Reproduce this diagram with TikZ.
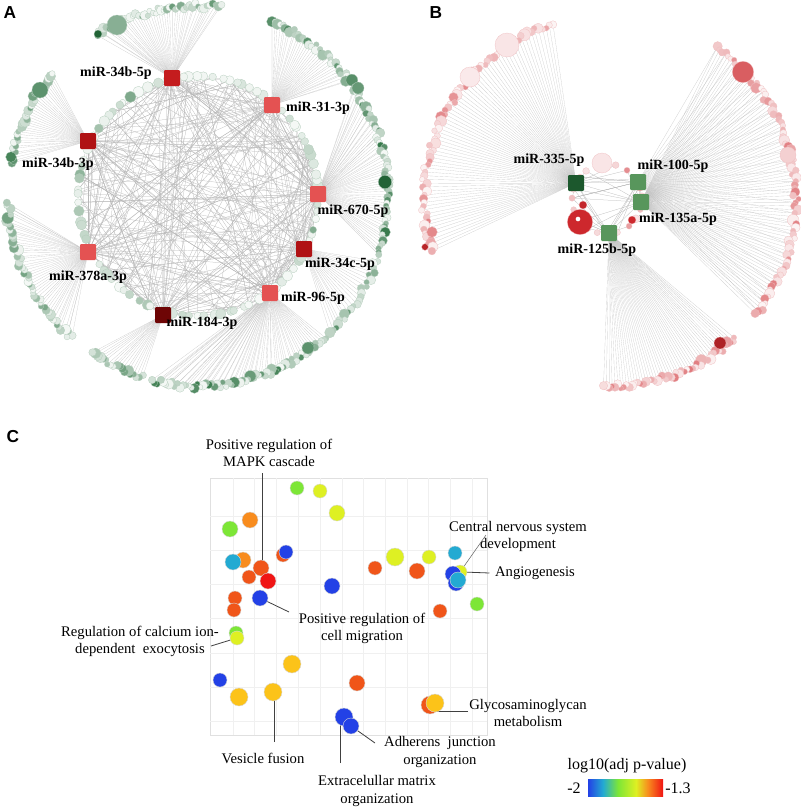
\documentclass[tikz,border=0pt]{standalone}
\usepackage{fontspec}
\setmainfont{Liberation Serif}
\newfontfamily\panelfont{Liberation Sans}
\usetikzlibrary{backgrounds}
\definecolor{Acol}{RGB}{38,110,60}
\definecolor{Bcol}{RGB}{205,40,45}
\definecolor{sqrA}{RGB}{196,28,30}
\definecolor{sqrB}{RGB}{228,82,82}
\definecolor{sqrC}{RGB}{176,18,20}
\definecolor{sqrD}{RGB}{110,5,5}
\definecolor{sqgA}{RGB}{28,88,45}
\definecolor{sqgB}{RGB}{88,150,92}
\definecolor{cBlue}{RGB}{35,65,230}
\definecolor{cCyan}{RGB}{35,170,210}
\definecolor{cGreen}{RGB}{125,230,55}
\definecolor{cYel}{RGB}{222,240,35}
\definecolor{cYO}{RGB}{252,195,25}
\definecolor{cOr}{RGB}{248,140,30}
\definecolor{cOR}{RGB}{240,85,25}
\definecolor{cRed}{RGB}{240,20,20}
\pgfdeclarehorizontalshading{jet}{100bp}{color(0bp)=(cBlue); color(25bp)=(cBlue); color(35bp)=(cCyan); color(45bp)=(cGreen); color(57bp)=(cYel); color(65bp)=(cOr); color(75bp)=(cRed); color(100bp)=(cRed)}

% nodes of one fan arc: #1 name, #2 start angle, #3 end angle, #4 count, #5 A/B, #6 #7 centre, #8 radius, #9 max shade
\newcommand{\drawfan}[9]{%
  \foreach \j in {0,...,#4}{%
    \pgfmathsetmacro{\ang}{#2+(#3-#2)*\j/#4}%
    \pgfmathsetmacro{\rad}{#8+3*rand}%
    \pgfmathsetmacro{\sz}{4+5.5*rnd*rnd}%
    \pgfmathtruncatemacro{\sh}{5+#9*rnd^1.5}%
    \node[dot#5, minimum size=\sz pt, fill=#5col!\sh!white] (#1-\j) at ({#6+\rad*cos(\ang)},{#7-\rad*sin(\ang)}) {};%
  }%
}
% edges of one fan
\newcommand{\fanedges}[3]{%
  \foreach \j in {0,...,#3}{\draw[fanline] (#2.center) -- (#1-\j.center);}%
}

\begin{document}
\begin{tikzpicture}[x=0.75pt,y=-0.75pt,
  dotA/.style={circle,inner sep=0pt,line width=0.2pt,draw=Acol!35!white},
  dotB/.style={circle,inner sep=0pt,line width=0.2pt,draw=Bcol!30!white},
  fanline/.style={draw=black!25,line width=0.1pt},
  chord/.style={draw=black!28,line width=0.18pt},
  sqnode/.style={rectangle,rounded corners=0.8pt,minimum size=12pt,inner sep=0pt},
  mir/.style={font=\bfseries\fontsize{10.5}{12}\selectfont,inner sep=1pt},
  plet/.style={font=\panelfont\bfseries\fontsize{13}{13}\selectfont,inner sep=0pt},
  bub/.style={circle,inner sep=0pt,line width=0.3pt,draw=black!15},
  lab/.style={font=\fontsize{11}{12.8}\selectfont,align=center,inner sep=0pt},
  leader/.style={draw=black!75,line width=0.6pt}]
\pgfmathsetseed{11}
\path[use as bounding box] (0,0) rectangle (800,810);

% ================= Panel A =================
\node[plet] (pA) at (10,13) {A};
\foreach \k in {1,...,96}{%
  \pgfmathsetmacro{\ang}{\k*3.75+1.5*rand}%
  \pgfmathsetmacro{\sz}{5+3.5*rnd}%
  \pgfmathtruncatemacro{\sh}{4+60*rnd*rnd}%
  \node[dotA, minimum size=\sz pt, fill=Acol!\sh!white] (ra-\k) at ({198+120*cos(\ang)},{196-120*sin(\ang)}) {};
}
\node[sqnode,fill=sqrA] (sqA1) at (172,78) {};
\node[sqnode,fill=sqrB] (sqA2) at (272,105) {};
\node[sqnode,fill=sqrB] (sqA3) at (318,194) {};
\node[sqnode,fill=sqrC] (sqA4) at (304,249) {};
\node[sqnode,fill=sqrB] (sqA5) at (270,293) {};
\node[sqnode,fill=sqrD] (sqA6) at (163,315) {};
\node[sqnode,fill=sqrB] (sqA7) at (88,252) {};
\node[sqnode,fill=sqrC] (sqA8) at (88,141) {};
\drawfan{fa1}{122}{83}{45}{A}{198}{196}{190}{65}
\drawfan{fa2}{67}{37}{34}{A}{198}{196}{190}{80}
\drawfan{fa3}{35}{-18}{60}{A}{198}{196}{190}{88}
\drawfan{fa4}{340}{314}{22}{A}{198}{196}{190}{75}
\drawfan{fa5}{312}{256}{65}{A}{198}{196}{190}{85}
\drawfan{fa6}{253}{236}{18}{A}{198}{196}{190}{65}
\drawfan{fa7}{228}{182}{50}{A}{198}{196}{190}{60}
\drawfan{fa8}{170}{140}{34}{A}{198}{196}{190}{70}
\node[dotA,minimum size=15pt,fill=Acol!55!white] (gA1) at (117,25) {};
\node[dotA,minimum size=6pt,fill=Acol!90!black] (gA2) at (98,34) {};
\node[dotA,minimum size=12pt,fill=Acol!75!white] (gA3) at (40,90) {};
\node[dotA,minimum size=8pt,fill=Acol!85!white] (gA4) at (11,157) {};
\node[dotA,minimum size=10pt,fill=Acol!90!black] (gA5) at (385,182) {};
\node[dotA,minimum size=9pt,fill=Acol!70!white] (gA6) at (358,88) {};
\node[dotA,minimum size=9pt,fill=Acol!75!white] (gA7) at (308,348) {};
\node[mir] (lA1) at (116,73) {miR-34b-5p};
\node[mir] (lA2) at (318,108) {miR-31-3p};
\node[mir] (lA3) at (353,211) {miR-670-5p};
\node[mir] (lA4) at (340,264) {miR-34c-5p};
\node[mir] (lA5) at (313,298) {miR-96-5p};
\node[mir] (lA6) at (202,323) {miR-184-3p};
\node[mir] (lA7) at (88,277) {miR-378a-3p};
\node[mir] (lA8) at (58,164) {miR-34b-3p};

% ================= Panel B =================
\node[plet] (pB) at (436,13) {B};
\foreach \k in {1,...,20}{%
  \pgfmathsetmacro{\ang}{\k*18+4*rand}%
  \pgfmathsetmacro{\sz}{4+4*rnd*rnd}%
  \pgfmathtruncatemacro{\sh}{10+80*rnd*rnd}%
  \node[dotB, minimum size=\sz pt, fill=Bcol!\sh!white] (rb-\k) at ({607+35*cos(\ang)},{199-35*sin(\ang)}) {};
}
\node[dotB,minimum size=15pt,fill=Bcol!12!white] (bP1) at (602,163) {};
\node[dotB,minimum size=19pt,fill=Bcol] (bR1) at (580,222) {};
\node[circle,inner sep=0pt,minimum size=3.5pt,fill=white] (bR1c) at (578,219) {};
\node[dotB,minimum size=6pt,fill=Bcol!95!black] (bR2) at (583,205) {};
\node[dotB,minimum size=6pt,fill=Bcol] (bR3) at (632,220) {};
\node[sqnode,fill=sqgA] (sqB1) at (576,183) {};
\node[sqnode,fill=sqgB] (sqB2) at (638,182) {};
\node[sqnode,fill=sqgB] (sqB3) at (641,202) {};
\node[sqnode,fill=sqgB] (sqB4) at (609,233) {};
\drawfan{fb1}{108}{196}{75}{B}{610}{200}{186}{55}
\drawfan{fb2}{55}{-38}{85}{B}{610}{200}{186}{55}
\drawfan{fb3}{312}{268}{50}{B}{610}{200}{186}{60}
\node[dotB,minimum size=18pt,fill=Bcol!12!white] (bO1) at (507,45) {};
\node[dotB,minimum size=15pt,fill=Bcol!10!white] (bO2) at (470,77) {};
\node[dotB,minimum size=16pt,fill=Bcol!75!white] (bO3) at (743,72) {};
\node[dotB,minimum size=12pt,fill=Bcol!22!white] (bO4) at (788,155) {};
\node[dotB,minimum size=9pt,fill=Bcol!85!black] (bO5) at (720,343) {};
\node[dotB,minimum size=8pt,fill=Bcol!55!white] (bO6) at (432,232) {};
\node[dotB,minimum size=5pt,fill=Bcol!90!black] (bO7) at (425,247) {};
\node[mir] (lB1) at (549,160) {miR-335-5p};
\node[mir] (lB2) at (673,166) {miR-100-5p};
\node[mir] (lB3) at (678,219) {miR-135a-5p};
\node[mir] (lB4) at (597,250) {miR-125b-5p};

% ================= Panel C =================
\node[plet] (pC) at (13,437) {C};
\foreach \x/\y/\d/\c [count=\n] in {297/488/10.5/cGreen, 320/491/10.5/cYel, 337/513/12/cYel, 250/520/12/cOr, 230/529/12/cGreen,
  283/555/10.5/cOR, 286/552/10.5/cBlue, 243/560/12/cOr, 233/562/12/cCyan, 261/568/12/cOR,
  249/577/10.5/cOR, 268/581/12/cRed, 260/598/12/cBlue, 235/598/10.5/cOR, 234/610/10.5/cOR,
  332/586/12/cBlue, 375/568/10.5/cOR, 395/557/13.5/cYel, 417/571/12/cOR, 429/557/10.5/cYel,
  455/553/10.5/cCyan, 460/572/10.5/cYel, 453/574/12/cBlue, 456/583/12/cBlue, 458/580/12/cCyan,
  477/604/10.5/cGreen, 440/611/10.5/cOR, 236/633/10.5/cGreen, 237/638/10.5/cYel, 292/664/13.5/cYO,
  220/680/10.5/cBlue, 357/683/12/cOR, 239/697/13.5/cYO, 273/692/13.5/cYO, 430/705/13.5/cOR,
  435/703/13.5/cYO, 344/717/13.5/cBlue, 351/726/12/cBlue}{%
  \node[bub,minimum size=\d pt,fill=\c] (c\n) at (\x,\y) {};
}
\node[lab] (lMAPK) at (269,453) {Positive regulation of\\MAPK cascade};
\node[lab] (lCNS) at (518,536) {Central nervous system\\development};
\node[lab] (lAng) at (535,573) {Angiogenesis};
\node[lab] (lMig) at (362,628) {Positive regulation of\\cell migration};
\node[lab] (lCa) at (140,641) {Regulation of calcium ion-\\dependent\ \ exocytosis};
\node[lab] (lVes) at (263,758) {Vesicle fusion};
\node[lab] (lECM) at (377,791) {Extracelullar matrix\\organization};
\node[lab] (lAdh) at (440,752) {Adherens\ \ junction\\organization};
\node[lab] (lGly) at (528,713) {Glycosaminoglycan\\metabolism};
\coordinate (kMAPK) at (262,473);
\coordinate (kCNS) at (486,535);
\coordinate (kAng) at (463,572);
\coordinate (kMig) at (289,612);
\coordinate (kCa) at (211,646);
\coordinate (kVes) at (274,742);
\coordinate (kECM) at (340,763);
\coordinate (kAdh) at (375,743);
\coordinate (kGly) at (468,711);
% colour bar
\node[lab,font=\fontsize{12}{14}\selectfont] (cbt) at (627,766) {log10(adj p-value)};
\node[minimum width=56.25pt,minimum height=12.75pt,inner sep=0pt,shading=jet] (cb) at (625.5,787.5) {};
\node[lab,font=\fontsize{12}{14}\selectfont] (cbl) at (574,788) {-2};
\node[lab,font=\fontsize{12}{14}\selectfont] (cbr) at (678,788) {-1.3};

% ================= all edges, behind =================
\begin{pgfonlayer}{background}
\fill[white] (0,0) rectangle (800,810);
% A
\foreach \i in {1,...,8}{%
  \foreach \m in {1,...,28}{%
    \pgfmathtruncatemacro{\k}{random(1,96)}%
    \draw[chord] (sqA\i.center) -- (ra-\k.center);
  }
  \foreach \jj in {1,...,8}{\ifnum\i<\jj \draw[chord] (sqA\i.center) -- (sqA\jj.center);\fi}
}
\foreach \m in {1,...,70}{%
  \pgfmathtruncatemacro{\k}{random(1,96)}%
  \pgfmathtruncatemacro{\l}{mod(\k+random(15,80),96)+1}%
  \draw[chord] (ra-\k.center) -- (ra-\l.center);
}
\fanedges{fa1}{sqA1}{45}
\fanedges{fa2}{sqA2}{34}
\fanedges{fa3}{sqA3}{60}
\fanedges{fa4}{sqA4}{22}
\fanedges{fa5}{sqA5}{65}
\fanedges{fa6}{sqA6}{18}
\fanedges{fa7}{sqA7}{50}
\fanedges{fa8}{sqA8}{34}
% B
\foreach \i in {1,...,4}{%
  \foreach \m in {1,...,8}{%
    \pgfmathtruncatemacro{\k}{random(1,20)}%
    \draw[chord] (sqB\i.center) -- (rb-\k.center);
  }
  \foreach \jj in {1,...,4}{\ifnum\i<\jj \draw[chord] (sqB\i.center) -- (sqB\jj.center);\fi}
}
\fanedges{fb1}{sqB1}{75}
\fanedges{fb2}{sqB3}{85}
\fanedges{fb3}{sqB4}{50}
\foreach \j in {0,3,...,84}{\draw[fanline] (sqB2.center) -- (fb2-\j.center);}
% C frame, grid and leaders
\draw[black!12,fill=white,line width=0.4pt] (210,478) rectangle (487,735);
\foreach \gx in {233,254,276,298,320,342,363,385,407,428,450,472}{\draw[black!6,line width=0.3pt] (\gx,478) -- (\gx,735);}
\foreach \gy in {516,550,584,618,653,687,721}{\draw[black!6,line width=0.3pt] (210,\gy) -- (487,\gy);}
\draw[leader] (kMAPK) -- (kMAPK |- c10.center);
\draw[leader,line width=0.4pt,draw=black!60] (kCNS) -- (c22.center);
\draw[leader] ([xshift=-4pt]lAng.west) -- (kAng);
\draw[leader] (kMig) -- (c13.center);
\draw[leader] (kCa) -- (c29.center);
\draw[leader] (kVes) -- (kVes |- c34.center);
\draw[leader] (kECM) -- (kECM |- c37.center);
\draw[leader] (kAdh) -- (c38.center);
\draw[leader] (kGly) -- (kGly -| c36.center);
\end{pgfonlayer}
\end{tikzpicture}
\end{document}
